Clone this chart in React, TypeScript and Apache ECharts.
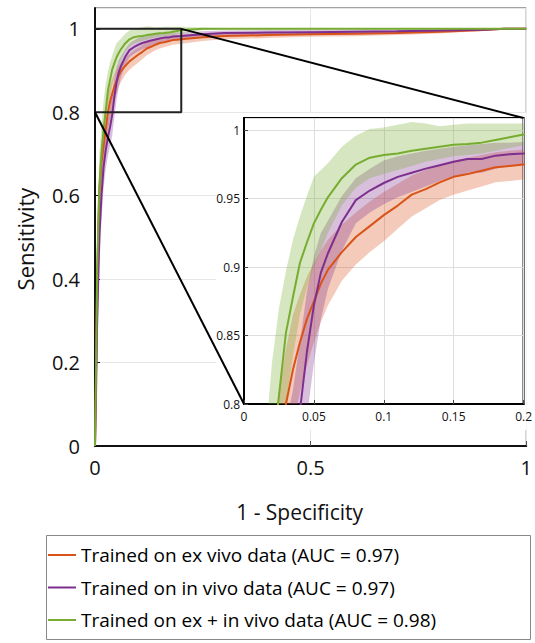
import React, { useEffect, useRef } from "react";
import * as echarts from "echarts";

// False positive rate grid (1 - Specificity)
const fpr = [0, 0.002, 0.005, 0.01, 0.015, 0.02, 0.025, 0.03, 0.035, 0.04, 0.045, 0.05, 0.055, 0.06, 0.07, 0.08, 0.09, 0.1, 0.11, 0.12, 0.13, 0.14, 0.15, 0.16, 0.17, 0.18, 0.19, 0.2, 0.25, 0.3, 0.4, 0.5, 0.6, 0.7, 0.8, 0.9, 0.95, 1];

// Trained on ex vivo data
const exMean = [0, 0.15, 0.4, 0.61, 0.68, 0.72, 0.76, 0.8, 0.825, 0.845, 0.862, 0.875, 0.888, 0.898, 0.911, 0.922, 0.93, 0.938, 0.945, 0.953, 0.957, 0.962, 0.966, 0.968, 0.9705, 0.973, 0.974, 0.975, 0.98, 0.983, 0.985, 0.987, 0.988, 0.99, 0.993, 0.997, 1, 1];
const exUpper = [0, 0.25, 0.5, 0.67, 0.73, 0.77, 0.81, 0.84, 0.865, 0.88, 0.893, 0.903, 0.912, 0.92, 0.931, 0.94, 0.948, 0.955, 0.961, 0.967, 0.971, 0.975, 0.978, 0.98, 0.982, 0.984, 0.985, 0.986, 0.989, 0.991, 0.992, 0.993, 0.994, 0.995, 0.997, 0.999, 1, 1];
const exLower = [0, 0.07, 0.3, 0.54, 0.62, 0.67, 0.71, 0.755, 0.785, 0.808, 0.828, 0.845, 0.86, 0.872, 0.89, 0.902, 0.911, 0.919, 0.928, 0.937, 0.943, 0.949, 0.953, 0.956, 0.959, 0.962, 0.963, 0.964, 0.971, 0.975, 0.978, 0.981, 0.982, 0.985, 0.989, 0.995, 1, 1];

// Trained on in vivo data
const inMean = [0, 0.1, 0.3, 0.5, 0.6, 0.67, 0.71, 0.74, 0.765, 0.795, 0.838, 0.872, 0.896, 0.91, 0.933, 0.949, 0.956, 0.9615, 0.966, 0.969, 0.972, 0.9745, 0.977, 0.979, 0.979, 0.9815, 0.9825, 0.983, 0.987, 0.99, 0.991, 0.992, 0.993, 0.994, 0.996, 0.998, 1, 1];
const inUpper = [0, 0.18, 0.4, 0.58, 0.66, 0.72, 0.755, 0.785, 0.81, 0.845, 0.882, 0.908, 0.925, 0.934, 0.952, 0.965, 0.972, 0.978, 0.981, 0.983, 0.985, 0.9865, 0.988, 0.989, 0.99, 0.991, 0.991, 0.9915, 0.994, 0.996, 0.997, 0.997, 0.998, 0.998, 0.999, 1, 1, 1];
const inLower = [0, 0.04, 0.2, 0.42, 0.54, 0.62, 0.665, 0.695, 0.72, 0.745, 0.79, 0.83, 0.862, 0.884, 0.912, 0.932, 0.94, 0.946, 0.951, 0.955, 0.959, 0.963, 0.966, 0.969, 0.969, 0.972, 0.974, 0.975, 0.98, 0.984, 0.985, 0.987, 0.988, 0.99, 0.993, 0.996, 1, 1];

// Trained on ex + in vivo data
const bothMean = [0, 0.15, 0.42, 0.62, 0.7, 0.76, 0.806, 0.852, 0.878, 0.903, 0.918, 0.932, 0.942, 0.951, 0.965, 0.975, 0.98, 0.982, 0.983, 0.985, 0.9865, 0.988, 0.9895, 0.99, 0.991, 0.993, 0.995, 0.997, 1, 1, 1, 1, 1, 1, 1, 1, 1, 1];
const bothUpper = [0, 0.25, 0.55, 0.7, 0.77, 0.83, 0.87, 0.897, 0.92, 0.937, 0.952, 0.966, 0.971, 0.976, 0.988, 0.996, 1.001, 1.002, 1.004, 1.006, 1.005, 1.003, 1.004, 1.005, 1.005, 1.005, 1.005, 1.005, 1.003, 1, 1, 1, 1, 1, 1, 1, 1, 1];
const bothLower = [0, 0.08, 0.3, 0.54, 0.64, 0.71, 0.75, 0.8, 0.835, 0.865, 0.885, 0.9, 0.912, 0.925, 0.945, 0.958, 0.965, 0.968, 0.971, 0.974, 0.977, 0.979, 0.981, 0.982, 0.983, 0.985, 0.987, 0.989, 0.997, 1, 1, 1, 1, 1, 1, 1, 1, 1];

const legendNames = [
  "Trained on ex vivo data (AUC = 0.97)",
  "Trained on in vivo data (AUC = 0.97)",
  "Trained on ex + in vivo data (AUC = 0.98)",
];
const lineColors = ["#D95319", "#7E2F8E", "#77AC30"];
const bandColors = ["rgba(217,83,25,0.3)", "rgba(126,47,142,0.3)", "rgba(119,172,48,0.3)"];

// zoom window of the inset
const zoomX = [0, 0.2];
const zoomY = [0.8, 1];

const FONT = "Open Sans";

const groups = [
  { mean: exMean, upper: exUpper, lower: exLower },
  { mean: inMean, upper: inUpper, lower: inLower },
  { mean: bothMean, upper: bothUpper, lower: bothLower },
];

function pairs(ys: number[]) {
  return fpr.map((x, i) => [x, ys[i]]);
}

function buildSeries(gridIdx: number, z: number) {
  const out: any[] = [];
  groups.forEach((g, k) => {
    out.push({
      type: "custom",
      name: `band${gridIdx}_${k}`,
      xAxisIndex: gridIdx,
      yAxisIndex: gridIdx,
      data: [[0, 0]],
      silent: true,
      z,
      renderItem: (params: any, api: any) => {
        const pts: number[][] = [];
        for (let i = 0; i < fpr.length; i++) pts.push(api.coord([fpr[i], g.upper[i]]));
        for (let i = fpr.length - 1; i >= 0; i--) pts.push(api.coord([fpr[i], g.lower[i]]));
        const cs = params.coordSys;
        return {
          type: "polygon",
          shape: { points: pts },
          style: { fill: bandColors[k], stroke: "none" },
          clipPath: { type: "rect", shape: { x: cs.x, y: cs.y, width: cs.width, height: cs.height } },
        };
      },
    });
  });
  groups.forEach((g, k) => {
    out.push({
      type: "line",
      name: legendNames[k],
      xAxisIndex: gridIdx,
      yAxisIndex: gridIdx,
      data: pairs(g.mean),
      symbol: "none",
      color: lineColors[k],
      lineStyle: { color: lineColors[k], width: 2 },
      silent: true,
      z: z + 0.5,
    });
  });
  return out;
}

export default function App() {
  const ref = useRef<HTMLDivElement>(null);
  useEffect(() => {
    if (!ref.current) return;
    const chart = echarts.init(ref.current, undefined, { renderer: "svg" });
    const series: any[] = [...buildSeries(0, 2), ...buildSeries(1, 5)];
    series.push({
      type: "line",
      name: "zoomBox",
      xAxisIndex: 0,
      yAxisIndex: 0,
      data: [
        [zoomX[0], zoomY[1]],
        [zoomX[1], zoomY[1]],
        [zoomX[1], zoomY[0]],
        [zoomX[0], zoomY[0]],
      ],
      symbol: "none",
      lineStyle: { color: "#222", width: 2 },
      silent: true,
      z: 2.8,
    });

    const option: any = {
      animation: false,
      textStyle: { fontFamily: FONT },
      grid: [
        { left: 95, top: 8, width: 438, height: 438, show: true, borderColor: "#444", borderWidth: 1, backgroundColor: "transparent", z: 0 },
        { left: 244, top: 118, width: 288, height: 286, show: true, borderColor: "#000", borderWidth: 2, backgroundColor: "#fff", z: 3.5 },
      ],
      xAxis: [
        {
          type: "value", gridIndex: 0, min: 0, max: 1, interval: 0.5,
          axisLine: { show: true, lineStyle: { color: "#111", width: 2 } },
          axisTick: { show: true, inside: true, length: 5, lineStyle: { color: "#555" } },
          axisLabel: { fontSize: 20, color: "#111", margin: 11, fontFamily: FONT },
          splitLine: { show: true, lineStyle: { color: "#e6e6e6", width: 1 } },
          name: "1 - Specificity", nameLocation: "middle", nameGap: 55,
          nameTextStyle: { fontSize: 21, color: "#111", fontFamily: FONT, padding: [0, 22, 0, 0] },
        },
        {
          type: "value", gridIndex: 1, min: zoomX[0], max: zoomX[1], interval: 0.05, z: 4,
          axisLine: { show: true, lineStyle: { color: "#000", width: 2 } },
          axisTick: { show: true, inside: true, length: 4, lineStyle: { color: "#444" } },
          axisLabel: { fontSize: 12, color: "#111", margin: 6, fontFamily: FONT },
          splitLine: { show: true, lineStyle: { color: "#dedede", width: 1 } },
        },
      ],
      yAxis: [
        {
          type: "value", gridIndex: 0, min: 0, max: 1.05, interval: 0.2,
          axisLine: { show: true, lineStyle: { color: "#111", width: 2 } },
          axisTick: { show: true, inside: true, length: 5, lineStyle: { color: "#111" } },
          axisLabel: { fontSize: 20, color: "#111", margin: 15, fontFamily: FONT, showMaxLabel: false },
          splitLine: { show: true, lineStyle: { color: "#e6e6e6", width: 1 } },
          name: "Sensitivity", nameLocation: "middle", nameGap: 59, nameRotate: 90,
          nameTextStyle: { fontSize: 22, color: "#111", fontFamily: FONT, padding: [0, 24, 0, 0] },
        },
        {
          type: "value", gridIndex: 1, min: 0.8, max: 1.009, interval: 0.05, z: 4,
          axisLine: { show: true, lineStyle: { color: "#000", width: 2 } },
          axisTick: { show: true, inside: true, length: 4, lineStyle: { color: "#444" } },
          axisLabel: { fontSize: 12, color: "#111", margin: 4, fontFamily: FONT, showMaxLabel: false },
          splitLine: { show: true, lineStyle: { color: "#dedede", width: 1 } },
        },
      ],
      legend: {
        orient: "vertical",
        left: 48,
        top: 545,
        padding: 0,
        itemWidth: 28,
        itemHeight: 2,
        itemGap: 12.5,
        icon: "rect",
        data: legendNames,
        selectedMode: false,
        textStyle: { fontSize: 19, color: "#000", fontFamily: FONT, lineHeight: 20 },
      },
      series,
    };
    chart.setOption(option);

    const p1 = chart.convertToPixel({ gridIndex: 0 } as any, [zoomX[0], zoomY[0]]) as number[];
    const p2 = chart.convertToPixel({ gridIndex: 0 } as any, [zoomX[1], zoomY[1]]) as number[];
    const q1 = chart.convertToPixel({ gridIndex: 1 } as any, [zoomX[0], 0.8]) as number[];
    const q2 = chart.convertToPixel({ gridIndex: 1 } as any, [zoomX[1], 1.009]) as number[];

    chart.setOption({
      graphic: {
        elements: [
          {
            type: "rect",
            id: "insetBg",
            silent: true,
            z: 3,
            shape: { x: q1[0] - 28, y: q2[1] - 5, width: q2[0] - q1[0] + 31, height: q1[1] - q2[1] + 31 },
            style: { fill: "#fff" },
          },
          {
            type: "line",
            id: "conn1",
            silent: true,
            z: 10,
            shape: { x1: p1[0], y1: p1[1], x2: q1[0], y2: q1[1] },
            style: { stroke: "#000", lineWidth: 2 },
          },
          {
            type: "line",
            id: "conn2",
            silent: true,
            z: 10,
            shape: { x1: p2[0], y1: p2[1], x2: q2[0], y2: q2[1] },
            style: { stroke: "#000", lineWidth: 2 },
          },
          {
            type: "rect",
            id: "legendBox",
            silent: true,
            z: 1,
            shape: { x: 46.5, y: 535.5, width: 484, height: 104 },
            style: { fill: "none", stroke: "#888", lineWidth: 1 },
          },
        ],
      },
    });

    return () => chart.dispose();
  }, []);
  return (
    <div
      ref={ref}
      style={{ position: "absolute", left: 0, top: 0, width: 535, height: 643 }}
    />
  );
}
